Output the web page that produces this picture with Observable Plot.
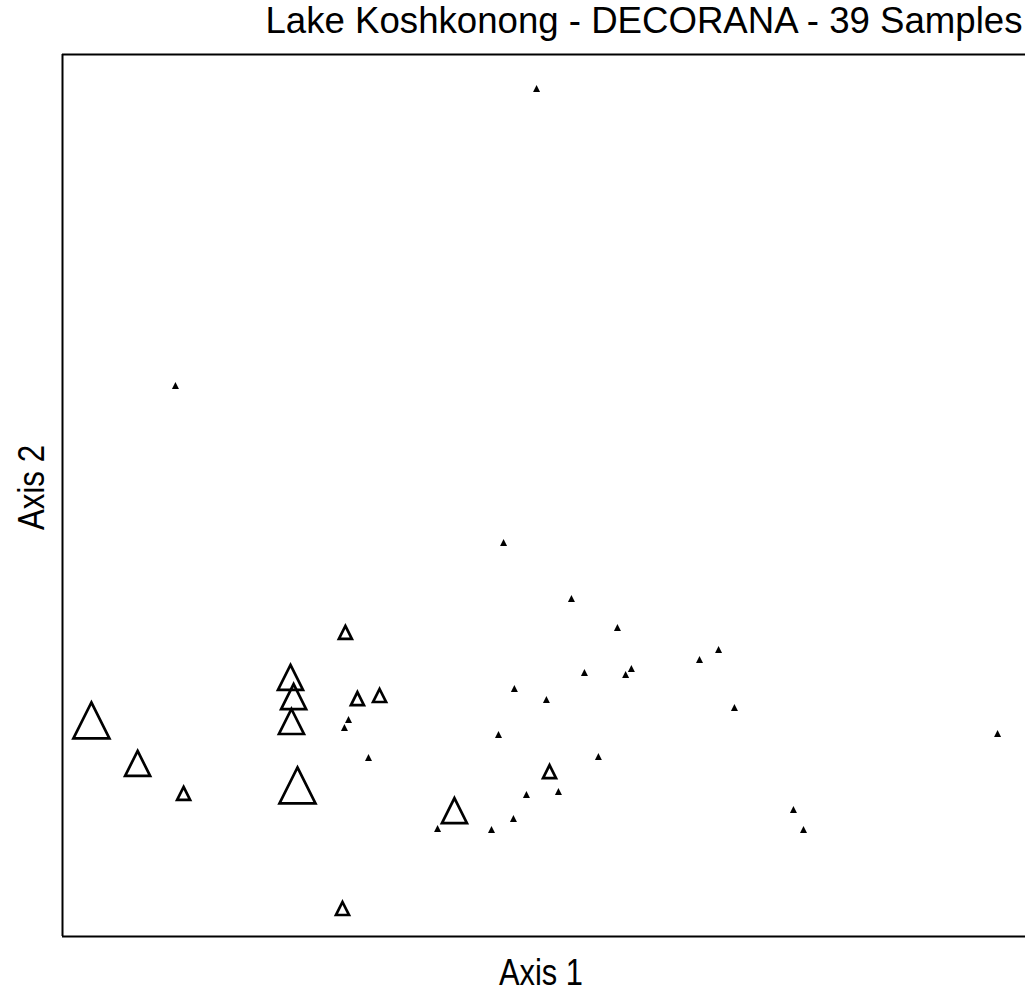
<!DOCTYPE html>
<html><head><meta charset="utf-8">
<script src="https://cdn.jsdelivr.net/npm/d3@7"></script>
<script src="https://cdn.jsdelivr.net/npm/@observablehq/plot@0.6"></script>
<style>body{margin:0;background:#fff;overflow:hidden}</style>
</head><body><div id="chart"></div>
<script>
const title = "Lake Koshkonong - DECORANA - 39 Samples";
const xLabel = "Axis 1";
const yLabel = "Axis 2";

// Samples drawn as open triangles (size class 1 = small, 2 = medium, 3 = large)
const openAxis1 = [1.175, 0.947, 0.960, 1.225, 1.317, 0.951, 0.120, 0.312, 0.503, 0.976, 1.628, 2.023, 1.163];
const openAxis2 = [1.379, 1.175, 1.088, 1.079, 1.093, 0.975, 0.980, 0.785, 0.649, 0.685, 0.571, 0.748, 0.127];
const openClass = [1, 2, 2, 1, 1, 2, 3, 2, 1, 3, 2, 1, 1];

// Samples drawn as tiny filled markers
const dotAxis1 = [1.969, 0.469, 1.832, 2.114, 2.305, 2.725, 2.646, 2.363, 2.339, 2.168, 1.877, 2.010, 2.791,
                  3.884, 3.036, 3.078, 1.811, 1.188, 1.171, 1.271, 1.558, 1.782, 1.873, 1.927, 2.060, 2.226];
const dotAxis2 = [3.846, 2.499, 1.787, 1.533, 1.401, 1.302, 1.256, 1.215, 1.188, 1.197, 1.125, 1.075, 1.039,
                  0.921, 0.576, 0.485, 0.916, 0.984, 0.948, 0.812, 0.490, 0.485, 0.535, 0.644, 0.658, 0.816];

const openData = openAxis1.map((x, i) => ({x, y: openAxis2[i], cls: openClass[i]}));
const dotData = dotAxis1.map((x, i) => ({x, y: dotAxis2[i]}));

const tri = {
  draw(ctx, size) {
    const r = Math.sqrt(size / Math.PI);
    ctx.moveTo(0, -r);
    ctx.lineTo(r, r);
    ctx.lineTo(-r, r);
    ctx.closePath();
  }
};
const radius = {1: 6.5, 2: 12.5, 3: 18};

const font = "'Liberation Sans', Arial, sans-serif";

const chart = Plot.plot({
  width: 1025,
  height: 992,
  marginLeft: 62,
  marginRight: 0,
  marginTop: 54,
  marginBottom: 56,
  style: {fontFamily: font, background: "#fff", color: "#000"},
  x: {domain: [0, 4], axis: null},
  y: {domain: [0, 4], axis: null},
  marks: [
    Plot.ruleX([0], {stroke: "#000", strokeWidth: 2}),
    Plot.ruleY([0, 4], {stroke: "#000", strokeWidth: 2}),
    ...[1, 2, 3].map(c => Plot.dot(openData, {
      filter: d => d.cls === c, x: "x", y: "y", r: radius[c],
      symbol: tri, fill: "none", stroke: "#000", strokeWidth: 2.7, strokeLinejoin: "miter"
    })),
    Plot.dot(dotData, {x: "x", y: "y", r: 3.5, symbol: tri, fill: "#000", stroke: "none"}),
    Plot.text([title], {frameAnchor: "top-right", textAnchor: "end", lineAnchor: "middle",
      dx: -3, dy: -33, fontSize: 36.5, fill: "#000"}),
    Plot.text([xLabel], {frameAnchor: "bottom", textAnchor: "middle", lineAnchor: "middle",
      dx: -3, dy: 37, fontSize: 37, fill: "#000"}),
    Plot.text([yLabel], {frameAnchor: "left", textAnchor: "middle", lineAnchor: "middle",
      rotate: -90, dx: -30, dy: -8, fontSize: 37, fill: "#000"})
  ]
});
// condense the axis labels to the reference's narrow lettering
chart.querySelectorAll("text").forEach(t => {
  if (t.textContent === xLabel) { t.setAttribute("textLength", 84); t.setAttribute("lengthAdjust", "spacingAndGlyphs"); }
  if (t.textContent === yLabel) { t.setAttribute("textLength", 85); t.setAttribute("lengthAdjust", "spacingAndGlyphs"); }
  if (t.textContent === title) { t.setAttribute("textLength", 757); t.setAttribute("lengthAdjust", "spacingAndGlyphs"); }
});
document.getElementById("chart").appendChild(chart);
</script>
</body></html>
